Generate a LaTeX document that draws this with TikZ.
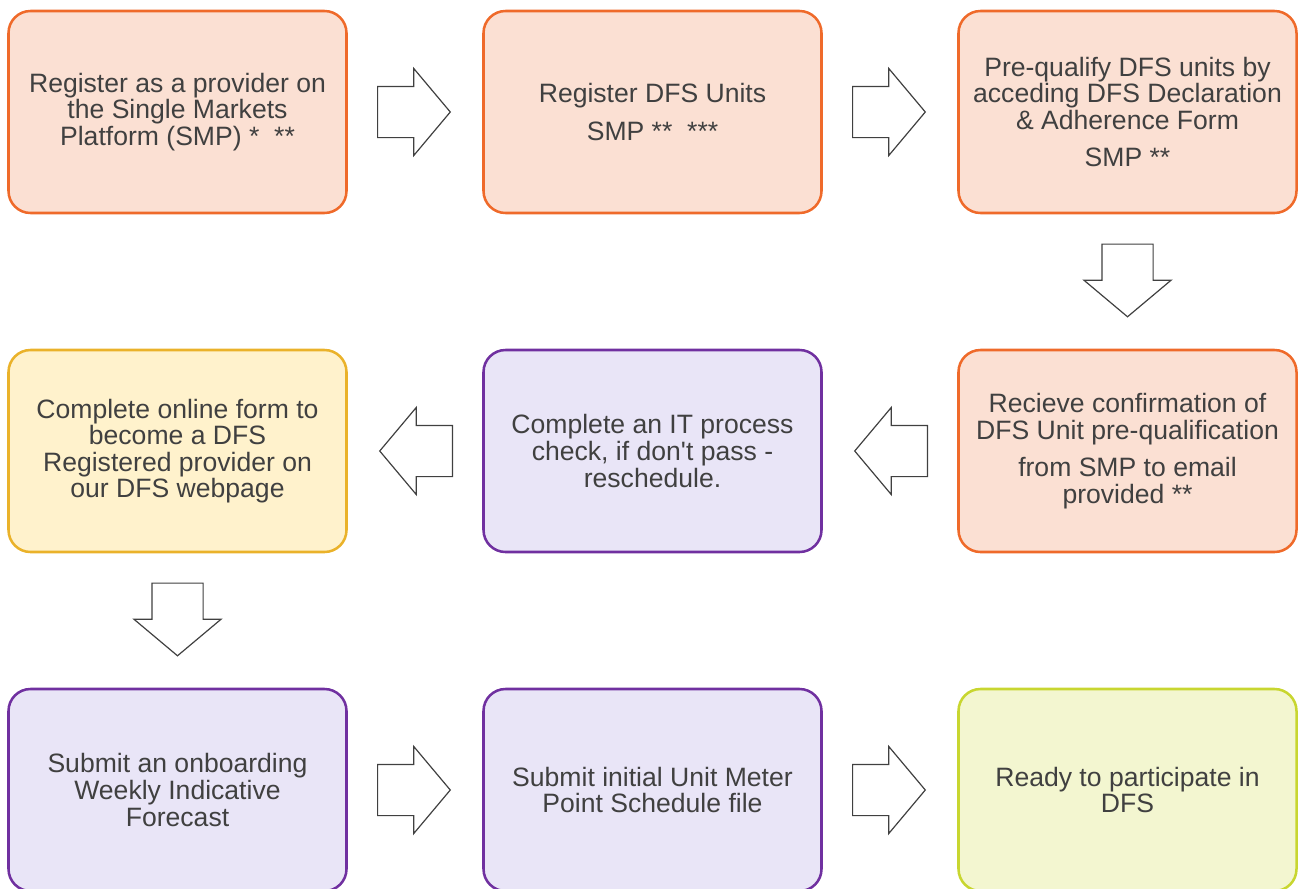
\documentclass[tikz,border=0pt]{standalone}
\usepackage{fontspec}
\setmainfont{Liberation Sans}
\usetikzlibrary{shapes.arrows,calc}
\definecolor{textgrey}{HTML}{404040}
\definecolor{arrowgrey}{HTML}{404040}
\definecolor{smpline}{HTML}{EF6A2A}
\definecolor{smpfill}{HTML}{FBE0D3}
\definecolor{itline}{HTML}{7030A0}
\definecolor{itfill}{HTML}{E9E5F7}
\definecolor{webline}{HTML}{EAB22A}
\definecolor{webfill}{HTML}{FFF2CC}
\definecolor{doneline}{HTML}{C8D630}
\definecolor{donefill}{HTML}{F3F6D0}

\begin{document}
\begin{tikzpicture}[node distance=11.875cm,text=textgrey,
                    font=\fontsize{18.9}{18.9}\selectfont]
  \tikzstyle{stage}=[rectangle,rounded corners=0.55cm,line width=1.8pt,
                     minimum width=8.45cm,minimum height=5.05cm,
                     align=center,inner sep=0pt]
  \tikzstyle{smpstage}=[stage,draw=smpline,fill=smpfill]
  \tikzstyle{itstage}=[stage,draw=itline,fill=itfill]
  \tikzstyle{webstage}=[stage,draw=webline,fill=webfill]
  \tikzstyle{donestage}=[stage,draw=doneline,fill=donefill]
  \tikzstyle{rarrow}=[single arrow,draw=arrowgrey,fill=white,line width=0.85pt,
                      minimum height=1.8cm,minimum width=0pt,inner sep=0.625cm,
                      single arrow head extend=0.45cm,
                      single arrow tip angle=100,anchor=tail]

  \useasboundingbox (0,0) rectangle (32.45,-22.2);
  \clip (0,0) rectangle (32.45,-22.2);

  % row 1
  \node[smpstage] (reg) at (4.4375,-2.8)
    {Register as a provider on\\the Single Markets\\Platform (SMP) *~~**};
  \node[smpstage] (units)   [right of=reg]
    {Register DFS Units\\[7.5pt]SMP **~~***};
  \node[smpstage] (prequal) [right of=units]
    {Pre-qualify DFS units by\\acceding DFS Declaration\\\& Adherence Form\\[7.5pt]SMP **};

  % row 2
  \node[smpstage] (confirm) [below of=prequal,node distance=8.475cm]
    {Recieve confirmation of\\DFS Unit pre-qualification\\[7.5pt]from SMP to email\\provided **};
  \node[itstage] (itcheck) [left of=confirm]
    {Complete an IT process\\check, if don\textquotesingle t pass -\\reschedule.};
  \node[webstage] (webform) [left of=itcheck]
    {Complete online form to\\become a DFS\\Registered provider on\\our DFS webpage};

  % row 3
  \node[itstage] (forecast) [below of=webform,node distance=8.475cm]
    {Submit an onboarding\\Weekly Indicative\\Forecast};
  \node[itstage] (schedule) [right of=forecast]
    {Submit initial Unit Meter\\Point Schedule file};
  \node[donestage] (ready)  [right of=schedule]
    {Ready to participate in\\DFS};

  % block arrows, tail placed half a length before the gap middle
  \node[rarrow] (a1) at ($(reg.east)!0.5!(units.west)+(-0.95,0)$) {};
  \node[rarrow] (a2) at ($(units.east)!0.5!(prequal.west)+(-0.95,0)$) {};
  \node[rarrow,shape border rotate=270] (a3) at ($(prequal.south)!0.5!(confirm.north)+(0,0.95)$) {};
  \node[rarrow,shape border rotate=180] (a4) at ($(confirm.west)!0.5!(itcheck.east)+(0.95,0)$) {};
  \node[rarrow,shape border rotate=180] (a5) at ($(itcheck.west)!0.5!(webform.east)+(0.95,0)$) {};
  \node[rarrow,shape border rotate=270] (a6) at ($(webform.south)!0.5!(forecast.north)+(0,0.95)$) {};
  \node[rarrow] (a7) at ($(forecast.east)!0.5!(schedule.west)+(-0.95,0)$) {};
  \node[rarrow] (a8) at ($(schedule.east)!0.5!(ready.west)+(-0.95,0)$) {};
\end{tikzpicture}
\end{document}
